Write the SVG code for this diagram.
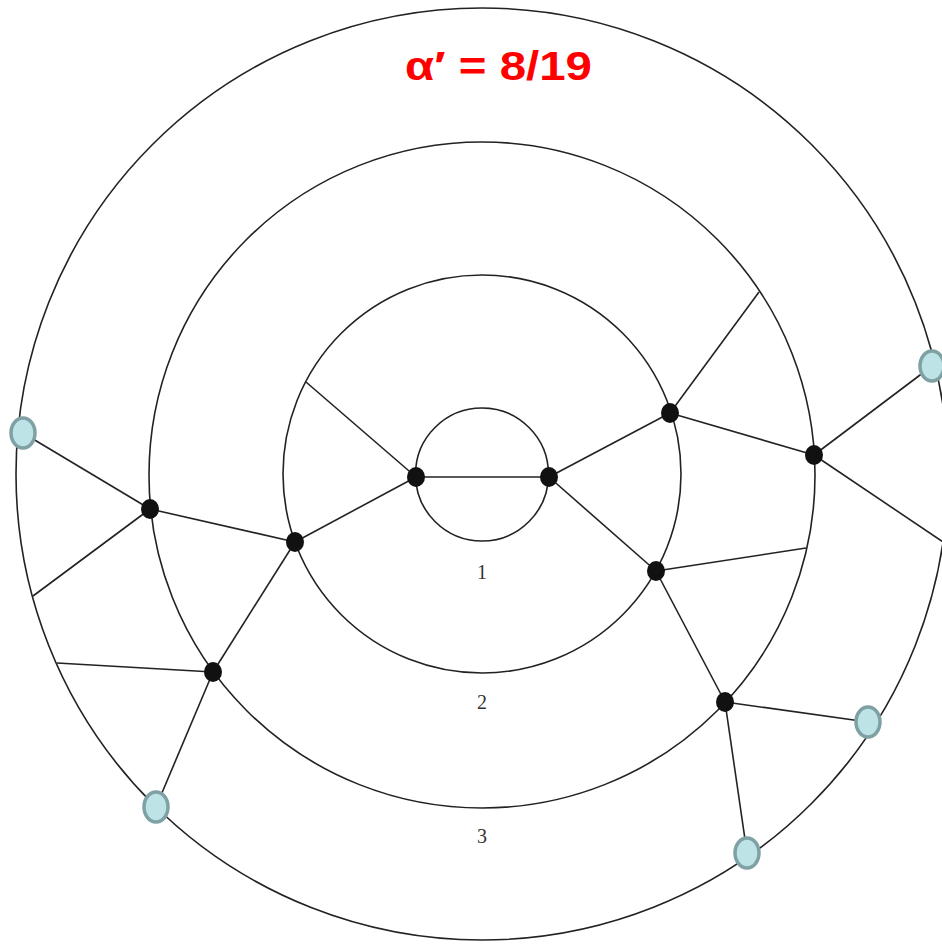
<svg xmlns="http://www.w3.org/2000/svg" width="942" height="944" viewBox="0 0 942 944">
<style>
.ring{fill:none;stroke:#222;stroke-width:1.6}
.e{stroke:#222;stroke-width:1.6;fill:none}
.v{fill:#111}
.t{fill:#bde3e6;stroke:#7fa1a4;stroke-width:3.5}
.lbl{font-family:"Liberation Serif",serif;font-size:20px;fill:#333;text-anchor:middle}
.title{font-family:"Liberation Sans",Arial,sans-serif;font-weight:bold;font-size:40px;fill:#ff0000}
</style>
<rect width="942" height="944" fill="#ffffff"/>
<g id="rings">
<circle class="ring" cx="482" cy="474" r="466"/>
<circle class="ring" cx="482" cy="475" r="333"/>
<circle class="ring" cx="482" cy="474" r="199"/>
<circle class="ring" cx="482" cy="474.5" r="66.5"/>
</g>
<g id="connectors">
<line class="e" x1="416" y1="477" x2="549" y2="477"/>
<line class="e" x1="416" y1="477" x2="306" y2="382"/>
<line class="e" x1="416" y1="477" x2="295" y2="542"/>
<line class="e" x1="295" y1="542" x2="150" y2="509"/>
<line class="e" x1="150" y1="509" x2="23" y2="433"/>
<line class="e" x1="150" y1="509" x2="33" y2="596"/>
<line class="e" x1="295" y1="542" x2="213" y2="672"/>
<line class="e" x1="213" y1="672" x2="57" y2="663"/>
<line class="e" x1="213" y1="672" x2="156" y2="807"/>
<line class="e" x1="549" y1="477" x2="670" y2="413"/>
<line class="e" x1="549" y1="477" x2="656" y2="571"/>
<line class="e" x1="670" y1="413" x2="759" y2="292"/>
<line class="e" x1="670" y1="413" x2="814" y2="455"/>
<line class="e" x1="814" y1="455" x2="932" y2="366"/>
<line class="e" x1="814" y1="455" x2="952" y2="548"/>
<line class="e" x1="656" y1="571" x2="806" y2="548"/>
<line class="e" x1="656" y1="571" x2="725" y2="702"/>
<line class="e" x1="725" y1="702" x2="868" y2="722"/>
<line class="e" x1="725" y1="702" x2="747" y2="853"/>
</g>
<g id="nA"><ellipse class="v" cx="416" cy="477" rx="9" ry="10"/></g>
<g id="nB"><ellipse class="v" cx="549" cy="477" rx="9" ry="10"/></g>
<g id="nC"><ellipse class="v" cx="670" cy="413" rx="9" ry="10"/></g>
<g id="nD"><ellipse class="v" cx="814" cy="455" rx="9" ry="10"/></g>
<g id="nE"><ellipse class="v" cx="656" cy="571" rx="9" ry="10"/></g>
<g id="nF"><ellipse class="v" cx="295" cy="542" rx="9" ry="10"/></g>
<g id="nG"><ellipse class="v" cx="150" cy="509" rx="9" ry="10"/></g>
<g id="nH"><ellipse class="v" cx="213" cy="672" rx="9" ry="10"/></g>
<g id="nI"><ellipse class="v" cx="725" cy="702" rx="9" ry="10"/></g>
<g id="tJ"><ellipse class="t" cx="23" cy="433" rx="12" ry="15"/></g>
<g id="tK"><ellipse class="t" cx="932" cy="366" rx="12" ry="15"/></g>
<g id="tL"><ellipse class="t" cx="156" cy="807" rx="12" ry="15"/></g>
<g id="tM"><ellipse class="t" cx="747" cy="853" rx="12" ry="15"/></g>
<g id="tN"><ellipse class="t" cx="868" cy="722" rx="12" ry="15"/></g>
<g id="labels">
<text class="lbl" x="482" y="579">1</text>
<text class="lbl" x="482" y="709">2</text>
<text class="lbl" x="482" y="843">3</text>
<text class="title" x="405" y="80" textLength="187" lengthAdjust="spacingAndGlyphs">α′ = 8/19</text>
</g>
</svg>
